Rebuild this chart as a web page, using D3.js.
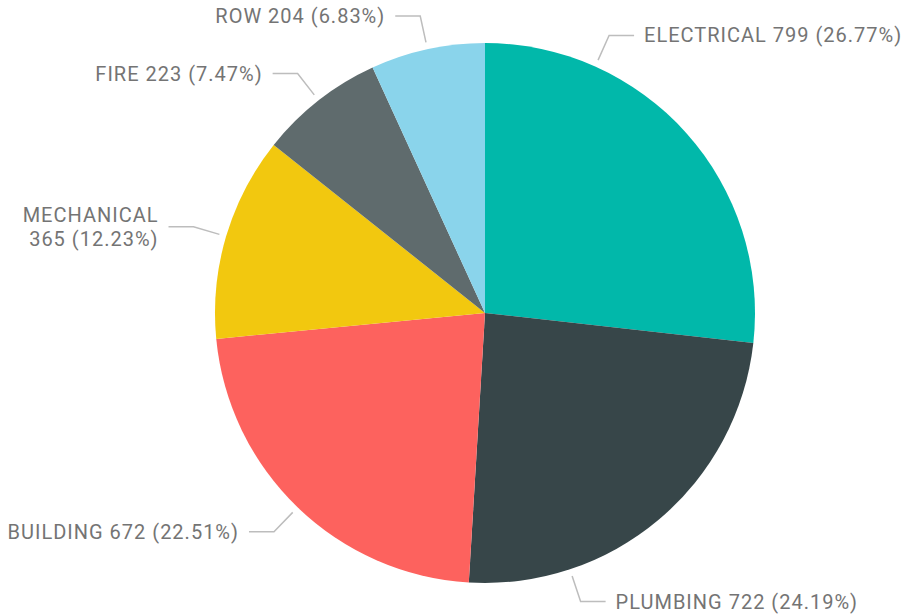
<!DOCTYPE html>
<html>
<head>
<meta charset="utf-8">
<script src="https://cdn.jsdelivr.net/npm/d3@7"></script>
<style>
  body { margin: 0; background: #fff; }
  text { font-family: Roboto, "DejaVu Sans", sans-serif; }
</style>
</head>
<body>
<svg id="chart"></svg>
<script>
// categories and values, clockwise from 12 o'clock
const categories = ['ELECTRICAL', 'PLUMBING', 'BUILDING', 'MECHANICAL', 'FIRE', 'ROW'];
const values = [799, 722, 672, 365, 223, 204];
const colors = ['#01B8AA', '#374649', '#FD625E', '#F2C80F', '#5F6B6D', '#8AD4EB'];
// where in its slice each leader line leaves the pie (0 = start, 1 = end)
const leaderAt = [0.25, 0.75, 0.5, 0.5, 0.5, 0.5];

let width = 905;
let height = 616;
let cx = 485, cy = 313;
let radius = 270;

let data = categories.map((c, i) => ({ name: c, value: values[i], color: colors[i], at: leaderAt[i] }));
let total = d3.sum(values);
let pctFormat = d3.format('.2%');

let svg = d3.select('#chart')
            .attr('width', width)
            .attr('height', height);

let pie = d3.pie()
            .sort(null)
            .value(d => d.value);

let arc = d3.arc()
            .innerRadius(0)
            .outerRadius(radius);

let g = svg.append('g')
           .attr('transform', `translate(${cx},${cy})`);

let arcs = pie(data);

g.selectAll('path')
  .data(arcs)
  .enter()
  .append('path')
  .attr('d', arc)
  .attr('fill', d => d.data.color);

// point at angle a (radians, clockwise from top) and radius r
let pt = (a, r) => [r * Math.sin(a), -r * Math.cos(a)];

arcs.forEach(d => {
  let a = d.startAngle + (d.endAngle - d.startAngle) * d.data.at;
  let right = a < Math.PI;
  let p0 = pt(a, radius + 7);
  let p1 = pt(a, radius + 34);
  let p2 = [p1[0] + (right ? 25 : -25), p1[1]];

  g.append('polyline')
    .attr('points', [p0, p1, p2].map(p => p.join(',')).join(' '))
    .attr('fill', 'none')
    .attr('stroke', '#bdbdbd')
    .attr('stroke-width', 1.5);

  let label = `${d.data.name} ${d.data.value} (${pctFormat(d.data.value / total)})`;
  let tx = p2[0] + (right ? 10 : -10);

  let t = g.append('text')
    .attr('x', tx)
    .attr('y', p1[1])
    .attr('dy', '0.35em')
    .style('font-size', '20px')
    .style('letter-spacing', '1px')
    .style('fill', '#747474')
    .style('text-anchor', right ? 'start' : 'end')
    .text(label);

  // wrap onto two lines when it would run off the page
  let w = t.node().getComputedTextLength();
  let room = right ? (width - cx) - tx : tx + cx;
  if (w > room + 2) {
    t.text(null);
    t.append('tspan').attr('x', tx).attr('dy', '-0.25em').text(d.data.name);
    t.append('tspan').attr('x', tx).attr('dy', '1.2em')
      .text(`${d.data.value} (${pctFormat(d.data.value / total)})`);
  }
});
</script>
</body>
</html>
